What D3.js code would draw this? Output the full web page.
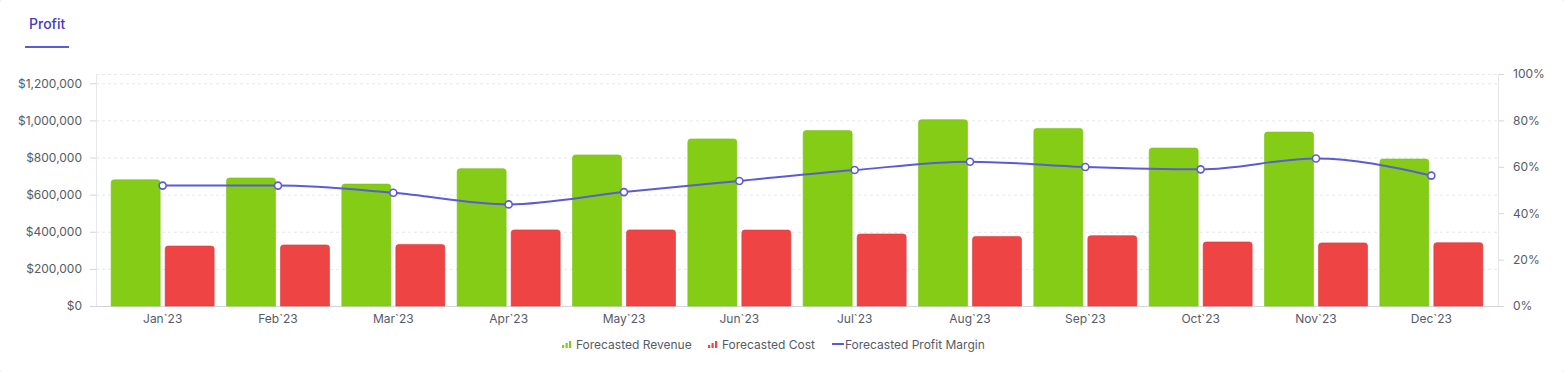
<!DOCTYPE html>
<html>
<head>
<meta charset="utf-8">
<script src="https://cdn.jsdelivr.net/npm/d3@7"></script>
<style>
  html, body { margin: 0; padding: 0; background: #fff; }
  svg { display: block; font-family: Inter, "Noto Sans", sans-serif; }
</style>
</head>
<body>
<svg id="chart" width="1564" height="372"></svg>
<script>
// Data
const months = ["Jan`23", "Feb`23", "Mar`23", "Apr`23", "May`23", "Jun`23",
  "Jul`23", "Aug`23", "Sep`23", "Oct`23", "Nov`23", "Dec`23"];
const revenue = [680000, 690000, 657000, 740000, 814000, 900000,
  945000, 1004000, 957000, 851000, 937000, 792000];
const cost = [323000, 329000, 332000, 410000, 410000, 409000,
  388000, 375000, 379000, 345000, 340000, 341000];
const margin = [51.9, 51.9, 48.8, 43.8, 49.1, 53.9,
  58.6, 62.2, 59.9, 58.9, 63.6, 56.2];
const moneyTicks = [0, 200000, 400000, 600000, 800000, 1000000, 1200000];
const pctTicks = [0, 20, 40, 60, 80, 100];

const svg = d3.select("#chart");
const W = 1564, H = 372;
const plot = { left: 96, right: 1498, top: 74, bottom: 306 };

const colors = {
  revenue: "#84cc16",
  cost: "#ef4444",
  line: "#5b5bd6",
  grid: "#e5e7eb",
  text: "#555b66"
};

// Card border (mostly outside the shot, only the corners peek in)
svg.append("rect")
  .attr("x", -1).attr("y", -1)
  .attr("width", W + 2).attr("height", H + 2)
  .attr("rx", 5)
  .attr("fill", "#fff")
  .attr("stroke", "#e5e7eb");

// Tab title
svg.append("text")
  .attr("x", 29).attr("y", 29)
  .attr("font-size", 14).attr("font-weight", 500)
  .attr("fill", "#4338ca")
  .text("Profit");
svg.append("rect")
  .attr("x", 25).attr("y", 46)
  .attr("width", 44).attr("height", 2)
  .attr("fill", "#5b5bd6");

// Scales
const x = d3.scaleBand().domain(months).range([105, 1489]);
const y = d3.scaleLinear().domain([0, 1250000]).range([plot.bottom, plot.top]);
const yPct = d3.scaleLinear().domain([0, 100]).range([plot.bottom, plot.top]);

// Gridlines
const grid = svg.append("g");
grid.selectAll("line")
  .data(moneyTicks.filter((t) => t > 0).concat([1250000]))
  .join("line")
  .attr("x1", plot.left).attr("x2", plot.right)
  .attr("y1", (d) => y(d) + 0.5).attr("y2", (d) => y(d) + 0.5)
  .attr("stroke", colors.grid)
  .attr("stroke-dasharray", "3,3");

// Left axis
const leftAxis = svg.append("g")
  .attr("transform", `translate(${plot.left},0)`)
  .call(d3.axisLeft(y).tickValues(moneyTicks).tickSize(6).tickPadding(8)
    .tickFormat((d) => "$" + d3.format(",")(d)));
leftAxis.select(".domain").remove();
leftAxis.selectAll(".tick line").attr("stroke", "#d1d5db");
leftAxis.selectAll("text")
  .attr("font-size", 12).attr("fill", colors.text)
  .attr("font-family", "Inter, sans-serif");
svg.append("line")
  .attr("x1", plot.left + 0.5).attr("x2", plot.left + 0.5)
  .attr("y1", plot.top).attr("y2", plot.bottom)
  .attr("stroke", colors.grid);

// Right axis
const rightAxis = svg.append("g")
  .attr("transform", `translate(${plot.right},0)`)
  .call(d3.axisRight(yPct).tickValues(pctTicks).tickSize(6).tickPadding(9)
    .tickFormat((d) => d + "%"));
rightAxis.select(".domain").remove();
rightAxis.selectAll(".tick line").attr("stroke", "#d1d5db");
rightAxis.selectAll("text")
  .attr("font-size", 12).attr("fill", colors.text)
  .attr("font-family", "Inter, sans-serif");
svg.append("line")
  .attr("x1", plot.right + 0.5).attr("x2", plot.right + 0.5)
  .attr("y1", plot.top).attr("y2", plot.bottom)
  .attr("stroke", colors.grid);

// Bottom axis
const bottomAxis = svg.append("g")
  .attr("transform", `translate(0,${plot.bottom})`)
  .call(d3.axisBottom(x).tickSize(0).tickPadding(8));
bottomAxis.select(".domain").remove();
bottomAxis.selectAll("text")
  .attr("font-size", 12).attr("fill", colors.text)
  .attr("font-family", "Inter, sans-serif");
svg.append("line")
  .attr("x1", plot.left).attr("x2", plot.right)
  .attr("y1", plot.bottom + 0.5).attr("y2", plot.bottom + 0.5)
  .attr("stroke", "#d1d5db");

// Bars with rounded top corners
function topRoundedBar(x0, w, yTop, yBase, r) {
  const h = yBase - yTop;
  r = Math.min(r, h, w / 2);
  return `M${x0},${yBase}V${yTop + r}Q${x0},${yTop} ${x0 + r},${yTop}` +
    `H${x0 + w - r}Q${x0 + w},${yTop} ${x0 + w},${yTop + r}V${yBase}Z`;
}

const barW = 49, gap = 2.5;
const center = (m) => x(m) + x.bandwidth() / 2;

svg.append("g")
  .selectAll("path")
  .data(months)
  .join("path")
  .attr("d", (m, i) => topRoundedBar(center(m) - gap - barW, barW, y(revenue[i]), plot.bottom, 3))
  .attr("fill", colors.revenue)
  .attr("stroke", "#7ac214")
  .attr("stroke-width", 0.6);

svg.append("g")
  .selectAll("path")
  .data(months)
  .join("path")
  .attr("d", (m, i) => topRoundedBar(center(m) + gap, barW, y(cost[i]), plot.bottom, 3))
  .attr("fill", colors.cost)
  .attr("stroke", "#d63a3a")
  .attr("stroke-width", 0.6);

// Profit margin line
const linePts = months.map((m, i) => [center(m), yPct(margin[i])]);
svg.append("path")
  .datum(linePts)
  .attr("d", d3.line().curve(d3.curveMonotoneX))
  .attr("fill", "none")
  .attr("stroke", colors.line)
  .attr("stroke-width", 2);

svg.append("g")
  .selectAll("circle")
  .data(linePts)
  .join("circle")
  .attr("cx", (d) => d[0])
  .attr("cy", (d) => d[1])
  .attr("r", 3.5)
  .attr("fill", "#fff")
  .attr("stroke", colors.line)
  .attr("stroke-width", 1.6);

// Legend
const legend = svg.append("g").attr("transform", "translate(0,344)");

function barIcon(g, x0, color) {
  [3, 5, 7].forEach((h, i) => {
    g.append("rect")
      .attr("x", x0 + i * 3.5).attr("y", 4 - h)
      .attr("width", 2.2).attr("height", h)
      .attr("fill", color);
  });
}

barIcon(legend, 562, colors.revenue);
legend.append("text").attr("x", 576).attr("y", 4.5)
  .attr("font-size", 12).attr("fill", colors.text)
  .text("Forecasted Revenue");

barIcon(legend, 708, colors.cost);
legend.append("text").attr("x", 722).attr("y", 4.5)
  .attr("font-size", 12).attr("fill", colors.text)
  .text("Forecasted Cost");

legend.append("line")
  .attr("x1", 832).attr("x2", 844)
  .attr("y1", 0).attr("y2", 0)
  .attr("stroke", colors.line).attr("stroke-width", 2);
legend.append("text").attr("x", 845).attr("y", 4.5)
  .attr("font-size", 12).attr("fill", colors.text)
  .text("Forecasted Profit Margin");
</script>
</body>
</html>
